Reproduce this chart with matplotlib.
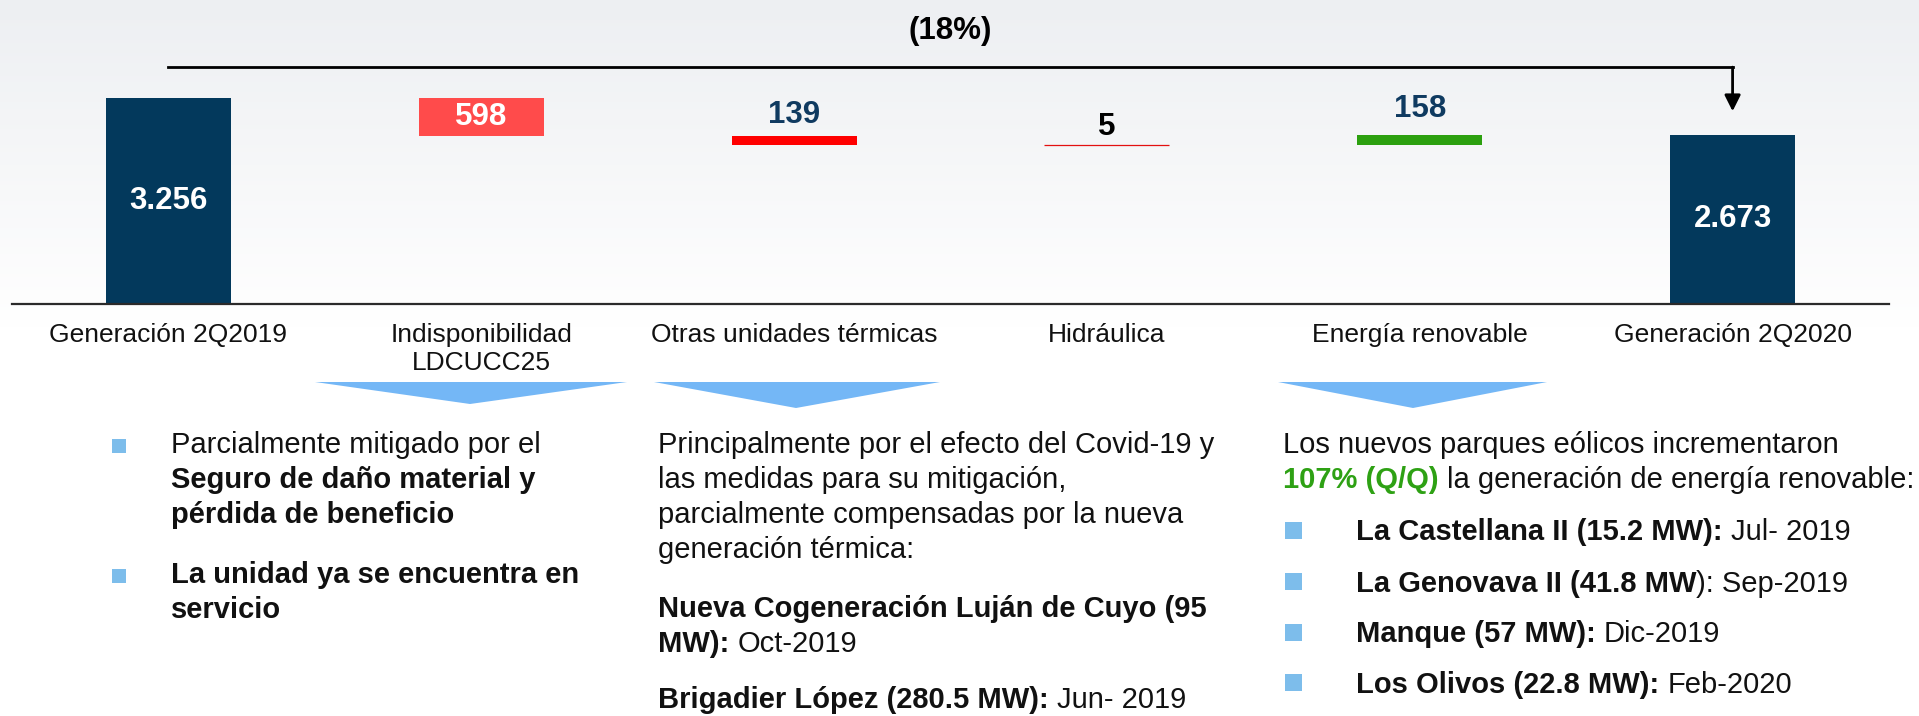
import numpy as np
import matplotlib
matplotlib.use('Agg')
import matplotlib.pyplot as plt
from matplotlib.colors import LinearSegmentedColormap
from matplotlib.patches import Polygon, Rectangle

plt.rcParams['font.family'] = ['Liberation Sans', 'DejaVu Sans']

# ---- data ----
categories = ['Generación 2Q2019', 'Indisponibilidad\nLDCUCC25', 'Otras unidades térmicas',
              'Hidráulica', 'Energía renovable', 'Generación 2Q2020']
start_val = 3256
deltas = [-598, -139, -5, 158]
end_val = 2673

delta_colors = ['#FF4B4B', '#FF0000', '#E31010', '#2CA00F']
label_colors = ['white', '#0F3A60', 'black', '#0F3A60']
label_offsets = [0, 15, 12.5, 18.5]  # points above the bar top

TXT = '#111111'
GREEN = '#2EA114'
col1_lines = [
    [('Parcialmente mitigado por el', 'normal', TXT)],
    [('Seguro de daño material y', 'bold', TXT)],
    [('pérdida de beneficio', 'bold', TXT)],
    [('La unidad ya se encuentra en', 'bold', TXT)],
    [('servicio', 'bold', TXT)],
]
col1_base = [453, 488, 523, 583, 618]
col1_bullets = [446, 576]

col2_lines = [
    [('Principalmente por el efecto del Covid-19 y', 'normal', TXT)],
    [('las medidas para su mitigación,', 'normal', TXT)],
    [('parcialmente compensadas por la nueva', 'normal', TXT)],
    [('generación térmica:', 'normal', TXT)],
    [('Nueva Cogeneración Luján de Cuyo (95', 'bold', TXT)],
    [('MW):', 'bold', TXT), (' Oct-2019', 'normal', TXT)],
    [('Brigadier López (280.5 MW):', 'bold', TXT), (' Jun- 2019', 'normal', TXT)],
]
col2_base = [453, 488, 523, 558, 617, 652, 708]

col3_lines = [
    [('Los nuevos parques eólicos incrementaron', 'normal', TXT)],
    [('107% (Q/Q)', 'bold', GREEN), (' la generación de energía renovable:', 'normal', TXT)],
]
col3_base = [453, 488]
col3_items = [
    [('La Castellana II (15.2 MW):', 'bold', TXT), (' Jul- 2019', 'normal', TXT)],
    [('La Genovava II (41.8 MW', 'bold', TXT), ('): Sep-2019', 'normal', TXT)],
    [('Manque (57 MW):', 'bold', TXT), (' Dic-2019', 'normal', TXT)],
    [('Los Olivos (22.8 MW):', 'bold', TXT), (' Feb-2020', 'normal', TXT)],
]
col3_item_base = [540, 592, 642, 693]
col3_bullets = [530, 581, 632, 682]

navy = '#03395C'
W, H = 1919, 716
BODY = 21

fig = plt.figure(figsize=(W / 100, H / 100), dpi=100, facecolor='white')

# overlay in pixel coords for slide decorations
ov = fig.add_axes([0, 0, 1, 1], zorder=0)
ov.axis('off')
cmap = LinearSegmentedColormap.from_list('bg', ['#EDEFF2', '#FFFFFF'])
ov.imshow(np.linspace(0, 1, 100)[:, None], cmap=cmap, extent=[0, W, 330, 0], aspect='auto')
ov.set_xlim(0, W)
ov.set_ylim(H, 0)

# chart axes
ax = fig.add_axes([12 / W, (H - 304) / H, (1889 - 12) / W, 304 / H], zorder=1)
ax.patch.set_alpha(0)
ax.set_xlim(-0.5, 5.5)
ax.set_ylim(0, start_val * 1.476)


def fmt(v):
    return f'{v:,}'.replace(',', '.')


ax.bar(0, start_val, width=0.4, color=navy)
ax.bar(5, end_val, width=0.4, color=navy)
ax.text(0, start_val / 2, fmt(start_val), ha='center', va='center', color='white',
        fontsize=22.5, fontweight='bold')
ax.text(5, end_val / 2, fmt(end_val), ha='center', va='center', color='white',
        fontsize=22.5, fontweight='bold')

running = start_val
for i, d in enumerate(deltas):
    bottom = running + min(d, 0)
    h = abs(d)
    ax.bar(i + 1, h, bottom=bottom, width=0.4, color=delta_colors[i],
           edgecolor=delta_colors[i], linewidth=0.9 if h < 20 else 0)
    if h > 0.1 * start_val:
        ax.text(i + 1, bottom + h / 2, fmt(h), ha='center', va='center',
                color=label_colors[i], fontsize=22.5, fontweight='bold')
    else:
        ax.annotate(fmt(h), xy=(i + 1, bottom + h), xytext=(0, label_offsets[i]),
                    textcoords='offset points', ha='center', va='center',
                    color=label_colors[i], fontsize=22.5, fontweight='bold')
    running += d

# bracket with change
ybr = start_val * 1.15
ax.plot([0, 5], [ybr, ybr], color='black', lw=2, solid_capstyle='projecting')
ax.annotate('', xy=(5, end_val + start_val * 0.115), xytext=(5, ybr),
            arrowprops=dict(arrowstyle='-|>', color='black', lw=2, mutation_scale=24,
                            shrinkA=0, shrinkB=0))
pct = round((end_val - start_val) / start_val * 100)
pct_txt = f'({abs(pct)}%)' if pct < 0 else f'{pct}%'
ax.annotate(pct_txt, xy=(2.5, ybr), xytext=(0, 26), textcoords='offset points',
            ha='center', va='center', fontsize=22.5, fontweight='bold', color='black')

for s in ['top', 'left', 'right']:
    ax.spines[s].set_visible(False)
ax.spines['bottom'].set_linewidth(1.6)
ax.spines['bottom'].set_color('#2A2A2A')
ax.set_yticks([])
ax.set_xticks(range(len(categories)))
ax.set_xticklabels(categories, fontsize=19, color=TXT)
ax.tick_params(axis='x', length=0, pad=13.5)

# chevrons under categories
tri_color = '#74B7F6'
for x0, x1, xa, ya in [(315, 627, 470, 404), (654, 940, 796, 408), (1278, 1547, 1413, 408)]:
    ov.add_patch(Polygon([(x0, 382), (x1, 382), (xa, ya)], closed=True, color=tri_color, lw=0))


def rich_line(x, y, parts, size=BODY):
    t = None
    for txt, w, c in parts:
        gap = 0
        if txt.startswith(' '):
            gap = 0.278 * size
            txt = txt.lstrip(' ')
        if t is None:
            t = ov.text(x + gap, y, txt, fontsize=size, fontweight=w, color=c,
                        ha='left', va='baseline')
        else:
            t = ov.annotate(txt, xy=(1, 0), xycoords=t, xytext=(gap, 0),
                            textcoords='offset points', fontsize=size, fontweight=w,
                            color=c, ha='left', va='bottom')
    return t


bullet_color = '#7DBDEB'
for yb in col1_bullets:
    ov.add_patch(Rectangle((112, yb - 7), 14, 14, color=bullet_color, lw=0))
for parts, yb in zip(col1_lines, col1_base):
    rich_line(171, yb, parts)

for parts, yb in zip(col2_lines, col2_base):
    rich_line(658, yb, parts)

for parts, yb in zip(col3_lines, col3_base):
    rich_line(1283, yb, parts)
for yb in col3_bullets:
    ov.add_patch(Rectangle((1285, yb - 8.5), 17, 17, color=bullet_color, lw=0))
for parts, yb in zip(col3_items, col3_item_base):
    rich_line(1356, yb, parts)

fig.savefig('out.png', dpi=100, facecolor='white')
